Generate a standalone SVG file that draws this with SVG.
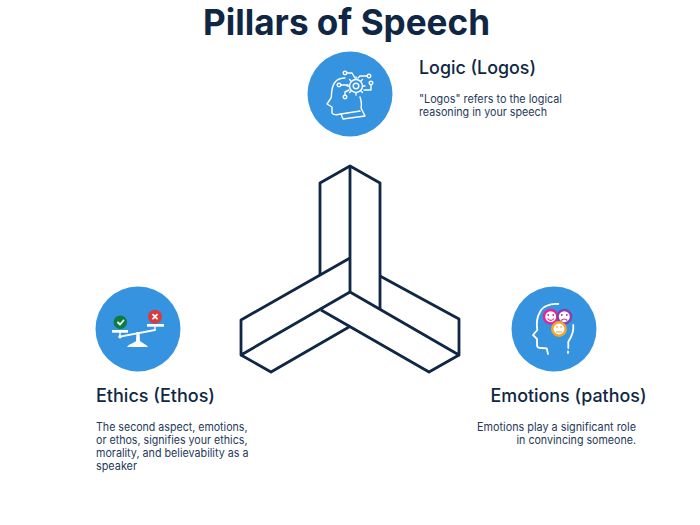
<svg xmlns="http://www.w3.org/2000/svg" width="700" height="525" viewBox="0 0 700 525">
<style>
text{font-family:"Inter","Liberation Sans",sans-serif;fill:#0f2744}
.title{font-size:35.5px;font-weight:700}
.head{font-size:18px;font-weight:500}
.body{font-size:11.200px;fill:#26395a}
.circle{fill:#3593e0}
.w{fill:none;stroke:#fff;stroke-width:1.4;stroke-linecap:round;stroke-linejoin:round}
.w2{fill:none;stroke:#fff;stroke-width:1.8;stroke-linecap:round;stroke-linejoin:round}
.p{fill:none;stroke:#0f2744;stroke-width:2.8;stroke-linejoin:round;stroke-linecap:butt}
.f{fill:#fff}
</style>
<rect width="700" height="525" fill="#fff"/>
<text class="title" x="203" y="34.500" textLength="287" lengthAdjust="spacingAndGlyphs">Pillars of Speech</text>
<g id="pillars" class="connectors">
<path class="p" d="M320 275V183L350 166L380 183V309"/>
<path class="p" d="M350 166V292"/>
<path class="p" d="M350 258L241 320V355L350 292L459 355V319L380 276"/>
<path class="p" d="M241 355L271 372L349 327"/>
<path class="p" d="M321 310L429 372L459 355"/>
</g>
<g id="logos">
<circle class="circle" cx="350" cy="94" r="42.500"/>
<path class="w" d="M345 78C337 78 333 83 332 90C331 94 332 96 331 98L327 104L332 107V113C333 115 337 115 341 114L343 119L365 116L361 108C362 104 361 100 360 97"/>
<path class="w" d="M341 114L360 111"/>
<circle class="w" cx="356" cy="86" r="6.500"/>
<circle class="w" cx="356" cy="86" r="2.800"/>
<path class="w" d="M356 77V79M356 93V95M347 86H349M363 86H365M349.500 79.500L351 81M361 91L362.500 92.500M362.500 79.500L361 81M351 91L349.500 92.500"/>
<circle class="w" cx="345" cy="73" r="1.800"/><path class="w" d="M347 73H352L355 78"/>
<circle class="w" cx="369" cy="76" r="1.800"/><path class="w" d="M367 76H360L358 78"/>
<circle class="w" cx="371" cy="83" r="1.800"/><path class="w" d="M371 85V90H364"/>
<circle class="w" cx="339" cy="85" r="1.800"/><path class="w" d="M341 85H348"/>
<circle class="w" cx="345" cy="97" r="1.800"/><path class="w" d="M345 95V92L349 90"/>
<text class="head" x="419" y="74" textLength="117" lengthAdjust="spacingAndGlyphs">Logic (Logos)</text>
<text class="body" x="419" y="103" textLength="143" lengthAdjust="spacingAndGlyphs">"Logos" refers to the logical</text>
<text class="body" x="419" y="116" textLength="128" lengthAdjust="spacingAndGlyphs">reasoning in your speech</text>
</g>
<g id="ethos">
<circle class="circle" cx="138" cy="329" r="42.500"/>
<path class="w2" d="M120 336.700L155 330"/>
<rect class="f" x="112" y="330" width="16" height="2.700"/>
<rect class="f" x="147" y="324" width="17" height="2.700"/>
<path class="w" d="M120 332V336M155 327V330"/>
<circle class="f" cx="120" cy="336.700" r="1.800"/>
<path class="f" d="M136.500 332H139.500L140 341C142 343 146 344 148 347H127C129 344 134 343 136 341Z"/>
<circle cx="120.300" cy="322.300" r="6.700" fill="#0c7d3e"/>
<path class="w2" d="M118 322.500L120 324.500L123.500 320.500"/>
<circle cx="155" cy="316.700" r="7" fill="#d93b3b"/>
<path class="w2" d="M153 314.700L157 318.700M157 314.700L153 318.700"/>
<text class="head" x="96" y="401.500" textLength="119" lengthAdjust="spacingAndGlyphs">Ethics (Ethos)</text>
<text class="body" x="96" y="431" textLength="151.500" lengthAdjust="spacingAndGlyphs">The second aspect, emotions,</text>
<text class="body" x="96" y="444" textLength="151.500" lengthAdjust="spacingAndGlyphs">or ethos, signifies your ethics,</text>
<text class="body" x="96" y="456.500" textLength="152.500" lengthAdjust="spacingAndGlyphs">morality, and believability as a</text>
<text class="body" x="96" y="469.500" textLength="41" lengthAdjust="spacingAndGlyphs">speaker</text>
</g>
<g id="pathos">
<circle class="circle" cx="554" cy="329" r="42.500"/>
<path class="w2" d="M558.300 304C550 303 542 307 540 312C537 317 536 322 537.300 330L533 335L537 339V345C537 347 539 348 541 348L546.700 348.300L548 354"/>
<path class="w2" d="M573.300 325C574 331 572 336 568.300 341.700V348M568 351.500V353"/>
<circle cx="550.700" cy="316.700" r="6.700" fill="#fff" stroke="#e2269b" stroke-width="2.500"/>
<path d="M547.500 318.500C549.500 321 552 321 554 318.500" fill="none" stroke="#e2269b" stroke-width="1.200"/>
<circle cx="548.200" cy="315" r=".9" fill="#e2269b"/><circle cx="553.200" cy="315" r=".9" fill="#e2269b"/>
<circle cx="564.300" cy="316.700" r="6.700" fill="#fff" stroke="#8a3fb0" stroke-width="2.500"/>
<path d="M561.300 320.500C563 318.500 565.500 318.500 567.300 320.500" fill="none" stroke="#8a3fb0" stroke-width="1.200"/>
<circle cx="561.800" cy="315" r=".9" fill="#8a3fb0"/><circle cx="566.800" cy="315" r=".9" fill="#8a3fb0"/>
<circle cx="559" cy="329" r="6.700" fill="#fff" stroke="#f3a52c" stroke-width="2.500"/>
<path d="M556 332H562M556 327H558M560 327H562" fill="none" stroke="#f3a52c" stroke-width="1.200"/>
<text class="head" x="490.500" y="402" textLength="156" lengthAdjust="spacingAndGlyphs">Emotions (pathos)</text>
<text class="body" x="477" y="431" textLength="159" lengthAdjust="spacingAndGlyphs">Emotions play a significant role</text>
<text class="body" x="516.500" y="443.500" textLength="119.500" lengthAdjust="spacingAndGlyphs">in convincing someone.</text>
</g>
</svg>
